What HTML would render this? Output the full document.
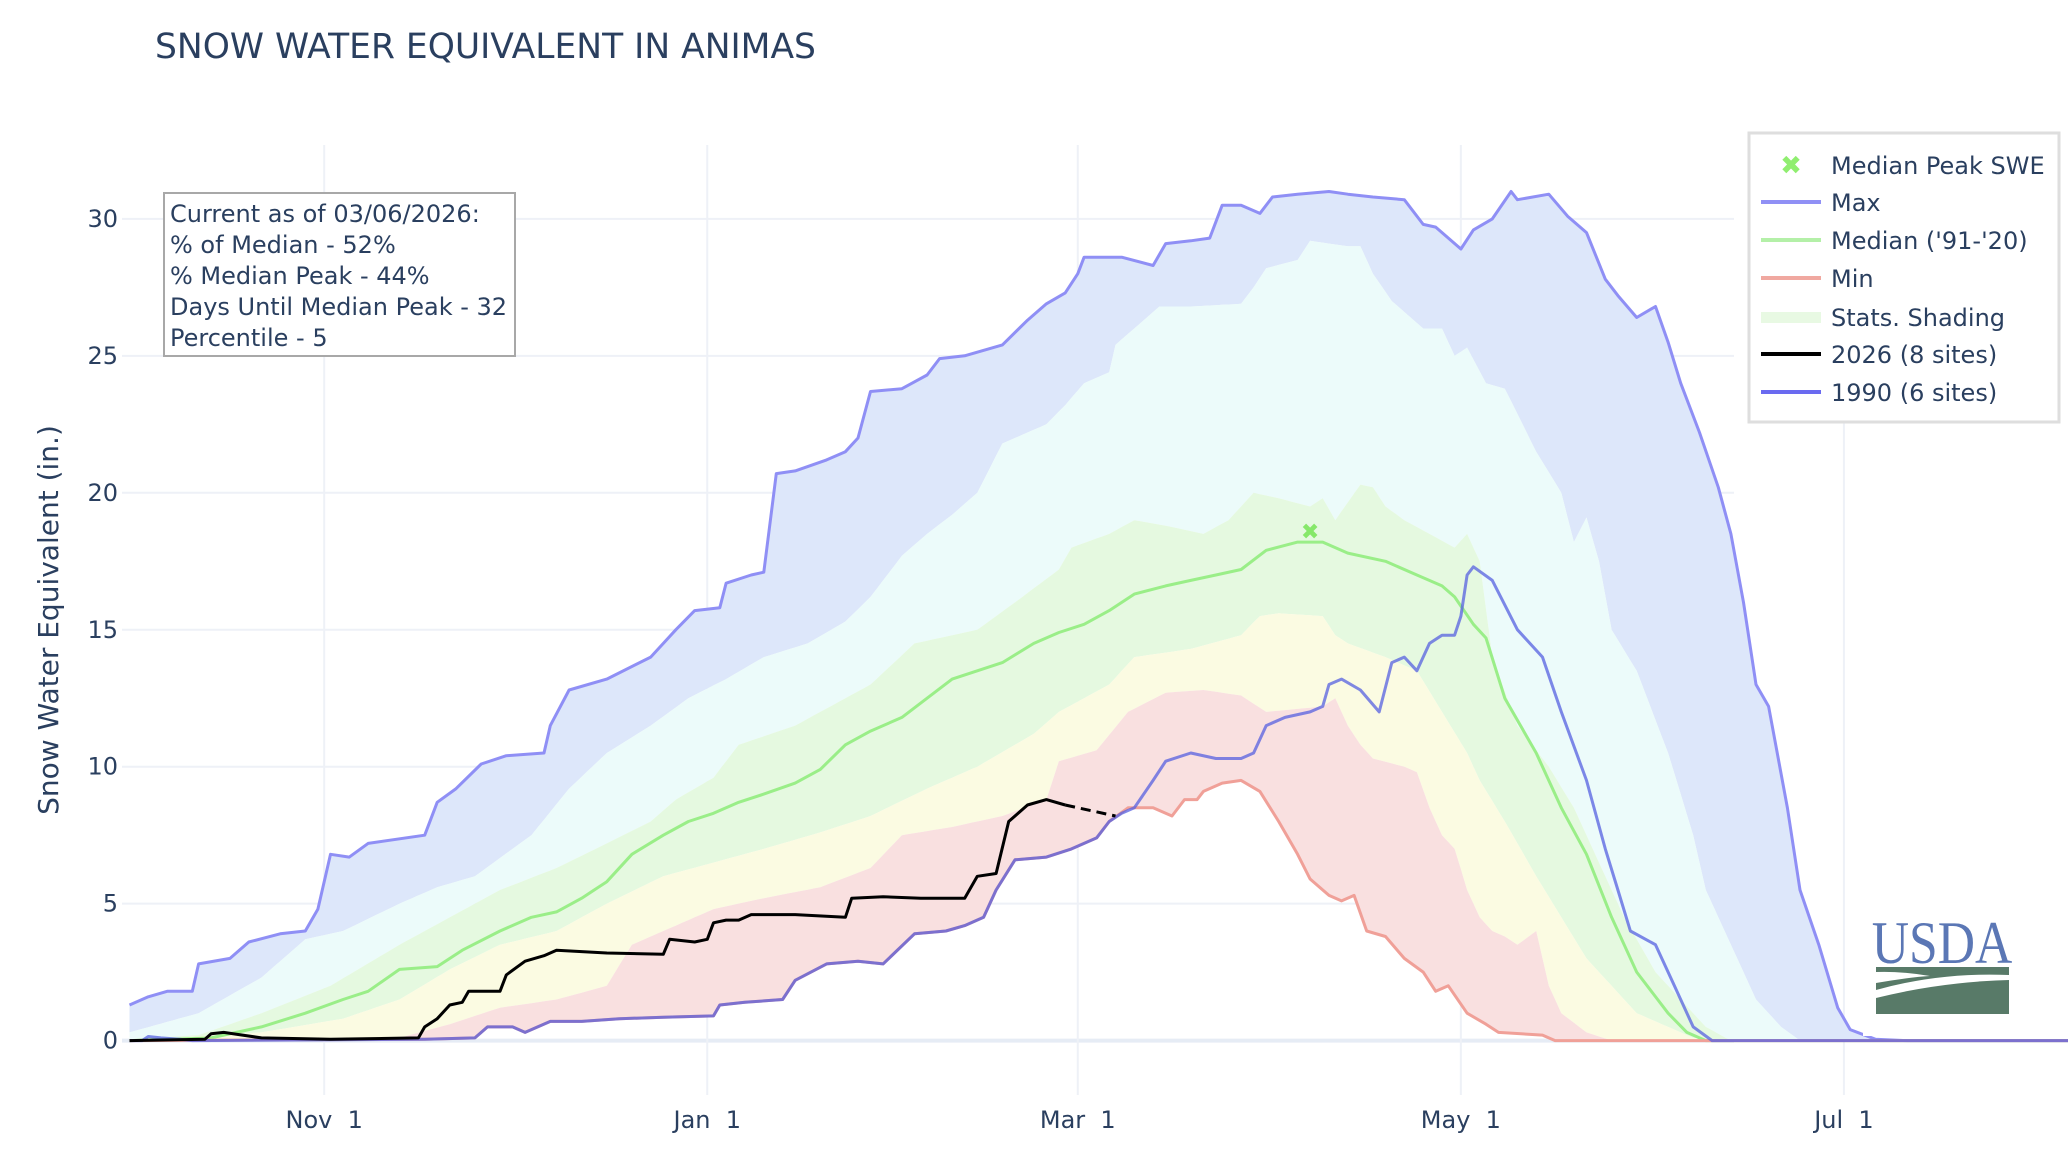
<!DOCTYPE html>
<html><head><meta charset="utf-8">
<style>
html,body{margin:0;padding:0;background:#fff;}
svg{display:block;font-family:"DejaVu Sans","Liberation Sans",sans-serif;}
</style></head>
<body>
<svg id="chart" width="2068" height="1153" viewBox="0 0 2068 1153" xmlns="http://www.w3.org/2000/svg">
<rect width="2068" height="1153" fill="#fff"/>
<text x="155" y="58" font-size="34.5" fill="#2a3f5f">SNOW WATER EQUIVALENT IN ANIMAS</text>
<g id="grid"></g>
<g id="bands"></g>
<g id="lines"></g>
<g id="axes"></g>
<text transform="translate(58,620) rotate(-90)" text-anchor="middle" font-size="28" fill="#2a3f5f">Snow Water Equivalent (in.)</text>
<g>
<rect x="164" y="193" width="351" height="163" fill="#fff" stroke="#a8a8a8" stroke-width="2"/>
<text x="170" y="222" font-size="24" fill="#2a3f5f">Current as of 03/06/2026:</text>
<text x="170" y="253" font-size="24" fill="#2a3f5f">% of Median - 52%</text>
<text x="170" y="284" font-size="24" fill="#2a3f5f">% Median Peak - 44%</text>
<text x="170" y="315" font-size="24" fill="#2a3f5f">Days Until Median Peak - 32</text>
<text x="170" y="346" font-size="24" fill="#2a3f5f">Percentile - 5</text>
</g>
<g>
<rect x="1749" y="133" width="310" height="289" fill="#fff" stroke="#dedede" stroke-width="3"/>
<g><text x="1791" y="174" font-size="26" font-weight="bold" fill="#90ee70" text-anchor="middle">✖</text><text x="1831" y="174" font-size="24" fill="#2a3f5f">Median Peak SWE</text></g>
<g><line x1="1761" y1="202" x2="1821" y2="202" stroke="#9090f5" stroke-width="4"/><text x="1831" y="211" font-size="24" fill="#2a3f5f">Max</text></g>
<g><line x1="1761" y1="240" x2="1821" y2="240" stroke="#b4f0a8" stroke-width="4"/><text x="1831" y="249" font-size="24" fill="#2a3f5f">Median ('91-'20)</text></g>
<g><line x1="1761" y1="278" x2="1821" y2="278" stroke="#f0a8a0" stroke-width="4"/><text x="1831" y="287" font-size="24" fill="#2a3f5f">Min</text></g>
<g><rect x="1761" y="312" width="60" height="11" fill="#e8f9e3"/><text x="1831" y="326" font-size="24" fill="#2a3f5f">Stats. Shading</text></g>
<g><line x1="1761" y1="354" x2="1821" y2="354" stroke="#000" stroke-width="4"/><text x="1831" y="363" font-size="24" fill="#2a3f5f">2026 (8 sites)</text></g>
<g><line x1="1761" y1="392" x2="1821" y2="392" stroke="#6a6af0" stroke-width="4"/><text x="1831" y="401" font-size="24" fill="#2a3f5f">1990 (6 sites)</text></g>
</g>
<g>
<rect x="1863" y="895" width="168" height="141" fill="#fff"/>
<text x="1942" y="963" font-size="60" text-anchor="middle" fill="#5b77b5" font-family="Liberation Serif, serif" transform="translate(1942,0) scale(0.86,1) translate(-1942,0)">USDA</text>
<path d="M1876 967 H2009 V975 Q1940 972 1876 990 V983 Q1910 977 1930 976 Q1900 971 1876 972 Z" fill="#587a68"/>
<path d="M1876 998 Q1940 982 2009 980 V1014 H1876 Z" fill="#587a68"/>
</g>
</svg>
<script>
// ---- data (day index from Oct 1, value in inches) ----
const tickDays = [31, 92, 151, 212, 273];
const tickLabels = ["Nov  1", "Jan  1", "Mar  1", "May  1", "Jul  1"];
const yTicks = [0, 5, 10, 15, 20, 25, 30];

const maxDays = [0,3,6,10,11,16,19,24,28,30,32,35,38,47,49,52,56,60,66,67,70,76,83,87,90,94,95,99,101,103,106,111,114,116,118,123,127,129,133,139,143,146,149,151,152,158,163,165,169,172,174,177,180,182,186,191,194,198,203,206,208,212,214,217,220,221,226,229,232,235,237,240,243,245,247,250,253,255,257,259,261,264,266,269,272,274,278,283,309];
const maxVals = [1.3,1.6,1.8,1.8,2.8,3.0,3.6,3.9,4.0,4.8,6.8,6.7,7.2,7.5,8.7,9.2,10.1,10.4,10.5,11.5,12.8,13.2,14.0,15.0,15.7,15.8,16.7,17.0,17.1,20.7,20.8,21.2,21.5,22.0,23.7,23.8,24.3,24.9,25.0,25.4,26.3,26.9,27.3,28.0,28.6,28.6,28.3,29.1,29.2,29.3,30.5,30.5,30.2,30.8,30.9,31.0,30.9,30.8,30.7,29.8,29.7,28.9,29.6,30.0,31.0,30.7,30.9,30.1,29.5,27.8,27.2,26.4,26.8,25.5,24.0,22.2,20.2,18.5,16.0,13.0,12.2,8.5,5.5,3.5,1.2,0.4,0.05,0,0];

const p90Days = [0,11,21,28,34,43,49,55,64,70,76,83,89,95,101,108,114,118,123,127,131,135,139,146,149,152,156,157,160,164,169,177,179,181,186,188,194,196,198,201,206,209,211,213,216,219,224,228,230,232,234,236,240,245,249,251,253,256,259,263,266,309];
const p90Vals = [0.3,1.0,2.3,3.7,4.0,5.0,5.6,6.0,7.5,9.2,10.5,11.5,12.5,13.2,14.0,14.5,15.3,16.2,17.7,18.5,19.2,20.0,21.8,22.5,23.2,24.0,24.4,25.4,26.0,26.8,26.8,26.9,27.5,28.2,28.5,29.2,29.0,29.0,28.0,27.0,26.0,26.0,25.0,25.3,24.0,23.8,21.5,20.0,18.2,19.1,17.5,15.0,13.5,10.5,7.5,5.5,4.5,3.0,1.5,0.5,0,0];

const p70Days = [0,11,21,32,43,51,59,68,76,83,87,93,97,106,114,118,125,135,141,148,150,156,160,165,171,175,179,183,188,190,192,196,198,200,203,207,211,213,215,217,221,226,230,234,238,243,247,251,255,309];
const p70Vals = [0.05,0.2,1.0,2.0,3.5,4.5,5.5,6.3,7.2,8.0,8.8,9.6,10.8,11.5,12.5,13.0,14.5,15.0,16.0,17.2,18.0,18.5,19.0,18.8,18.5,19.0,20.0,19.8,19.5,19.8,19.0,20.3,20.2,19.5,19.0,18.5,18.0,18.5,17.5,14.0,11.5,10.0,8.5,6.5,4.5,2.5,1.5,0.5,0,0];

const p30Days = [0,21,34,43,51,59,68,76,85,93,101,110,118,127,135,144,148,152,156,160,169,177,180,183,190,192,194,200,205,209,213,215,219,224,228,232,236,240,245,249,253,309];
const p30Vals = [0,0.3,0.8,1.5,2.6,3.5,4.0,5.0,6.0,6.5,7.0,7.6,8.2,9.2,10.0,11.2,12.0,12.5,13.0,14.0,14.3,14.8,15.5,15.6,15.5,14.8,14.5,14.0,13.5,12.0,10.5,9.5,8.0,6.0,4.5,3.0,2.0,1.0,0.5,0.1,0,0];

const p10Days = [0,43,51,59,68,76,80,85,93,101,110,118,123,131,139,146,148,154,159,165,171,177,181,190,192,194,196,198,203,205,207,209,211,213,215,217,219,221,224,226,228,232,236,309];
const p10Vals = [0,0.1,0.6,1.2,1.5,2.0,3.5,4.0,4.8,5.2,5.6,6.3,7.5,7.8,8.2,8.8,10.2,10.6,12.0,12.7,12.8,12.6,12.0,12.2,12.5,11.5,10.8,10.3,10.0,9.8,8.5,7.5,7.0,5.5,4.5,4.0,3.8,3.5,4.0,2.0,1.0,0.3,0,0];

const minDays = [0,47,55,57,61,63,67,72,78,85,93,94,98,104,106,111,116,120,125,130,133,136,138,141,146,150,154,156,159,163,166,168,170,171,174,177,180,183,186,188,191,193,195,197,200,203,206,208,210,213,216,218,225,227,309];
const minVals = [0,0.05,0.1,0.5,0.5,0.3,0.7,0.7,0.8,0.85,0.9,1.3,1.4,1.5,2.2,2.8,2.9,2.8,3.9,4.0,4.2,4.5,5.5,6.6,6.7,7.0,7.4,8.0,8.5,8.5,8.2,8.8,8.8,9.1,9.4,9.5,9.1,8.0,6.8,5.9,5.3,5.1,5.3,4.0,3.8,3.0,2.5,1.8,2.0,1.0,0.6,0.3,0.2,0,0];

const medDays = [0,13,21,28,34,38,43,49,53,59,64,68,72,76,80,85,89,93,97,101,106,110,114,118,123,127,131,135,139,144,148,152,156,160,165,169,173,177,181,186,190,194,200,205,209,211,214,216,219,224,228,232,236,240,245,248,251,309];
const medVals = [0,0.1,0.5,1.0,1.5,1.8,2.6,2.7,3.3,4.0,4.5,4.7,5.2,5.8,6.8,7.5,8.0,8.3,8.7,9.0,9.4,9.9,10.8,11.3,11.8,12.5,13.2,13.5,13.8,14.5,14.9,15.2,15.7,16.3,16.6,16.8,17.0,17.2,17.9,18.2,18.2,17.8,17.5,17.0,16.6,16.2,15.2,14.7,12.5,10.5,8.5,6.8,4.5,2.5,1.0,0.3,0,0];

const y2026Days = [0,12,13,15,18,21,32,46,47,49,51,53,54,59,60,63,66,68,76,85,86,90,92,93,95,97,99,106,114,115,120,126,133,135,138,140,143,146,149];
const y2026Vals = [0,0.05,0.25,0.3,0.2,0.1,0.05,0.1,0.5,0.8,1.3,1.4,1.8,1.8,2.4,2.9,3.1,3.3,3.2,3.15,3.7,3.6,3.7,4.3,4.4,4.4,4.6,4.6,4.5,5.2,5.25,5.2,5.2,6.0,6.1,8.0,8.6,8.8,8.6];
const y2026GapDays = [149,157];
const y2026GapVals = [8.6,8.2];

const y1990Days = [0,2,3,5,8,10,47,55,57,61,63,67,72,78,85,93,94,98,104,106,111,116,120,125,130,133,136,138,141,146,150,154,156,158,160,163,165,169,173,177,179,181,184,188,190,191,193,196,199,201,203,205,207,209,211,212,213,214,217,221,225,228,232,235,237,239,243,246,249,252,309];
const y1990Vals = [0,0,0.15,0.1,0.05,0,0.05,0.1,0.5,0.5,0.3,0.7,0.7,0.8,0.85,0.9,1.3,1.4,1.5,2.2,2.8,2.9,2.8,3.9,4.0,4.2,4.5,5.5,6.6,6.7,7.0,7.4,8.0,8.3,8.5,9.5,10.2,10.5,10.3,10.3,10.5,11.5,11.8,12.0,12.2,13.0,13.2,12.8,12.0,13.8,14.0,13.5,14.5,14.8,14.8,15.5,17.0,17.3,16.8,15.0,14.0,12.0,9.5,7.0,5.5,4.0,3.5,2.0,0.5,0,0];

const medianPeakDay = [188];
const medianPeakVal = [18.6];

// ---- scales ----
const X0 = 129.5, PXD = 6.28, Y0 = 1040.6, PXU = 27.39;
function xs(d){ return X0 + d * PXD; }
function ys(v){ return Y0 - v * PXU; }
const NS = "http://www.w3.org/2000/svg";
function mk(tag, parent){ const e = document.createElementNS(NS, tag); parent.appendChild(e); return e; }
function interp(days, vals, d){
  if (d <= days[0]) return vals[0];
  for (let i = 1; i < days.length; i++) {
    if (d <= days[i]) { const t = (d - days[i-1]) / ((days[i] - days[i-1]) || 1); return vals[i-1] + t * (vals[i] - vals[i-1]); }
  }
  return vals[vals.length - 1];
}
function pathOf(days, vals){ return days.map((d,i)=>(i?"L":"M")+xs(d).toFixed(1)+" "+ys(vals[i]).toFixed(1)).join(" "); }

// grid
const grid = document.getElementById("grid");
yTicks.forEach(v=>{
  const l = mk("line", grid);
  
  
  l.setAttribute("x1", 122); l.setAttribute("x2", 1734);
  l.setAttribute("y1", ys(v)); l.setAttribute("y2", ys(v));
  l.setAttribute("stroke", v === 0 ? "#e6ecf5" : "#eef1f7"); l.setAttribute("stroke-width", v === 0 ? 4 : 2);
});
tickDays.forEach(d=>{
  const l = mk("line", grid);
  
  
  l.setAttribute("x1", xs(d)); l.setAttribute("x2", xs(d));
  l.setAttribute("y1", 145); l.setAttribute("y2", 1095);
  l.setAttribute("stroke", "#eef1f7"); l.setAttribute("stroke-width", 2);
});

// bands
const bands = document.getElementById("bands");
const bandDefs = [
  [maxDays,maxVals,p90Days,p90Vals,"#dde7fa","band-max-p90"],
  [p90Days,p90Vals,p70Days,p70Vals,"#ecfbfa","band-p90-p70"],
  [p70Days,p70Vals,p30Days,p30Vals,"#e5f9e0","band-p70-p30"],
  [p30Days,p30Vals,p10Days,p10Vals,"#fbfbe2","band-p30-p10"],
  [p10Days,p10Vals,minDays,minVals,"#f9e0e0","band-p10-min"]
];
bandDefs.forEach(b=>{
  const pts = [];
  for (let d = 0; d <= 309; d++) pts.push(xs(d).toFixed(1)+","+ys(interp(b[0],b[1],d)).toFixed(1));
  for (let d = 309; d >= 0; d--) pts.push(xs(d).toFixed(1)+","+ys(interp(b[2],b[3],d)).toFixed(1));
  const p = mk("polygon", bands);
  
  
  p.setAttribute("points", pts.join(" "));
  p.setAttribute("fill", b[4]);
});

// lines
const lines = document.getElementById("lines");
function drawLine(days, vals, color, w, name, dash, op){
  const p = mk("path", lines);
  
  
  p.setAttribute("d", pathOf(days, vals));
  p.setAttribute("fill", "none"); p.setAttribute("stroke", color);
  p.setAttribute("stroke-width", w); p.setAttribute("stroke-linejoin", "round");
  if (dash) p.setAttribute("stroke-dasharray", dash);
  if (op) p.setAttribute("stroke-opacity", op);
}
drawLine(maxDays, maxVals, "#8f8ff5", 3, "max-line");
drawLine(medDays, medVals, "#9aee88", 3, "median-line");
drawLine(minDays, minVals, "#f0a098", 3, "min-line");
drawLine(y1990Days, y1990Vals, "#5560e0", 3, "line-1990", null, 0.75);
drawLine(y2026Days, y2026Vals, "#000", 3, "line-2026");
drawLine(y2026GapDays, y2026GapVals, "#000", 3, "line-2026-gap", "10,6");
medianPeakDay.forEach((d,i)=>{
  const t = mk("text", lines);
  
  
  t.setAttribute("x", xs(d)); t.setAttribute("y", ys(medianPeakVal[i]) + 8);
  t.setAttribute("text-anchor", "middle"); t.setAttribute("font-size", "22");
  t.setAttribute("font-weight", "bold"); t.setAttribute("fill", "#86e86a");
  t.textContent = "✖";
});

// axes labels
const axes = document.getElementById("axes");
yTicks.forEach(v=>{
  const t = mk("text", axes);
  
  
  t.setAttribute("x", 118); t.setAttribute("y", ys(v) + 8);
  t.setAttribute("text-anchor", "end"); t.setAttribute("font-size", "24"); t.setAttribute("fill", "#2a3f5f");
  t.textContent = String(v);
});
tickDays.forEach((d,i)=>{
  const t = mk("text", axes);
  
  
  t.setAttribute("x", xs(d)); t.setAttribute("y", 1128);
  t.setAttribute("text-anchor", "middle"); t.setAttribute("font-size", "24"); t.setAttribute("fill", "#2a3f5f");
  t.setAttribute("xml:space", "preserve");
  t.style.whiteSpace = "pre";
  t.textContent = tickLabels[i];
});
</script>
</body></html>
